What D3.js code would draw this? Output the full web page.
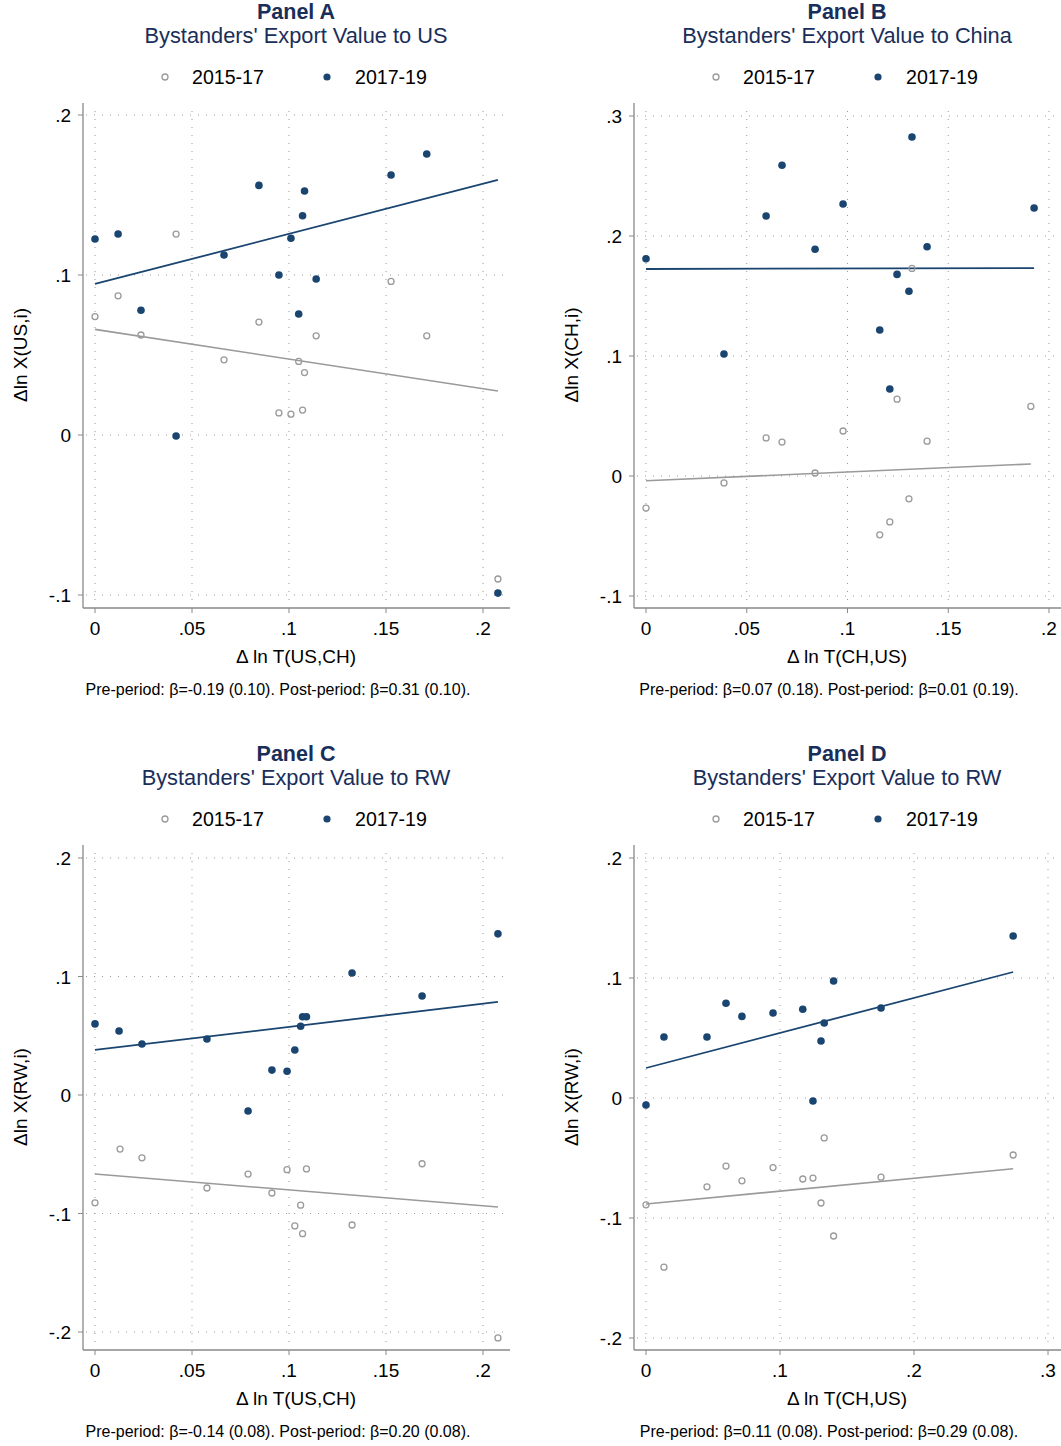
<!DOCTYPE html>
<html><head><meta charset="utf-8">
<script src="https://cdn.jsdelivr.net/npm/d3@7"></script>
<style>body{margin:0;background:#fff}text{font-family:"Liberation Sans",Arial,sans-serif}</style>
</head><body><svg id="c" width="1061" height="1446"></svg>
<script>
// panel A : US
const aPostX = [0,.0119,.0237,.0418,.0665,.0845,.0948,.101,.107,.108,.105,.114,.1526,.171,.2077];
const aPostY = [.1225,.1256,.078,-.0006,.1125,.156,.1,.123,.137,.1525,.0756,.0975,.1625,.1756,-.0988];
const aPreX  = [0,.0119,.0237,.0418,.0665,.0845,.0948,.101,.107,.105,.108,.114,.1526,.171,.2077];
const aPreY  = [.074,.087,.0625,.1256,.047,.0706,.0138,.013,.0156,.046,.039,.062,.096,.062,-.09];
// panel B : China
const bPostX = [0,.0387,.0596,.0675,.0839,.0978,.116,.121,.1246,.1305,.132,.1395,.1926];
const bPostY = [.181,.1017,.2167,.259,.189,.2267,.1217,.0725,.168,.154,.2825,.191,.2233];
const bPreX  = [0,.0387,.0596,.0675,.0839,.0978,.116,.121,.1246,.1305,.132,.1395,.191];
const bPreY  = [-.0267,-.0058,.0317,.0283,.0025,.0375,-.049,-.0383,.064,-.019,.173,.029,.058];
// panel C : RW vs T(US,CH)
const cPostX = [0,.0124,.0242,.0577,.0789,.0912,.099,.103,.106,.107,.109,.1325,.1686,.2077];
const cPostY = [.06,.054,.043,.0473,-.0135,.021,.02,.038,.058,.066,.066,.103,.0835,.136];
const cPreX  = [0,.0129,.0242,.0577,.0789,.0912,.099,.103,.106,.107,.109,.1325,.1686,.2077];
const cPreY  = [-.091,-.0456,-.053,-.0785,-.0667,-.0827,-.063,-.1105,-.093,-.117,-.0624,-.1097,-.058,-.205];
// panel D : RW vs T(CH,US)
const dPostX = [0,.0134,.0455,.0597,.0716,.0948,.117,.1246,.1306,.133,.140,.1754,.274];
const dPostY = [-.0058,.0508,.0508,.079,.068,.0708,.074,-.0025,.0475,.0625,.0975,.075,.135];
const dPreX  = [0,.0134,.0455,.0597,.0716,.0948,.117,.1246,.1306,.133,.140,.1754,.274];
const dPreY  = [-.089,-.141,-.074,-.0567,-.069,-.058,-.0675,-.0667,-.0875,-.0333,-.115,-.066,-.0475];
// fitted lines [y at start, y at end]
const aFit = {pre:[.066,.0275], post:[.0944,.1594]};
const bFit = {pre:[-.004,.01], post:[.1725,.1733]};
const cFit = {pre:[-.0667,-.0945], post:[.038,.0785]};
const dFit = {pre:[-.0883,-.059], post:[.025,.105]};

const navy = "#1a4570", grey = "#9a9a9a";
const svg = d3.select("#c");

function fmt(v){ if(v===0) return "0"; let s = String(+v.toFixed(2)); return s.replace("0.", "."); }

function panel(o){
  const g = svg.append("g").attr("transform", `translate(${o.dx},${o.dy})`);
  const x = d3.scaleLinear().domain(o.xd).range([95,o.xr]);
  const y = d3.scaleLinear().domain(o.yd).range(o.yr);
  const L=83, R=510, T=103, B=608;
  // titles
  g.append("text").attr("x",296).attr("y",19).attr("text-anchor","middle").attr("font-size",21.5).attr("font-weight","bold").attr("fill","#1a2e5a").text(o.title);
  g.append("text").attr("x",296).attr("y",43).attr("text-anchor","middle").attr("font-size",21.8).attr("fill","#1a2e5a").text(o.sub);
  // legend
  g.append("circle").attr("cx",165).attr("cy",77).attr("r",3).attr("fill","none").attr("stroke",grey).attr("stroke-width",1.3);
  g.append("text").attr("x",192).attr("y",84).attr("font-size",19.6).text("2015-17");
  g.append("circle").attr("cx",327).attr("cy",77).attr("r",3.6).attr("fill",navy);
  g.append("text").attr("x",355).attr("y",84).attr("font-size",19.6).text("2017-19");
  // grid
  g.selectAll(".gy").data(o.yt).join("line").attr("x1",L+3).attr("x2",R).attr("y1",d=>y(d)).attr("y2",d=>y(d))
    .attr("stroke","#999").attr("stroke-width",1).attr("stroke-dasharray","1,7");
  g.selectAll(".gx").data(o.xt).join("line").attr("y1",T+8).attr("y2",B-3).attr("x1",d=>x(d)).attr("x2",d=>x(d))
    .attr("stroke","#999").attr("stroke-width",1).attr("stroke-dasharray","1,7");
  // axes
  g.append("line").attr("x1",L).attr("x2",L).attr("y1",T).attr("y2",B).attr("stroke","#888").attr("stroke-width",1.3);
  g.append("line").attr("x1",L).attr("x2",R).attr("y1",B).attr("y2",B).attr("stroke","#888").attr("stroke-width",1.3);
  g.selectAll(".ty").data(o.yt).join("line").attr("x1",L-5).attr("x2",L).attr("y1",d=>y(d)).attr("y2",d=>y(d)).attr("stroke","#888");
  g.selectAll(".tx").data(o.xt).join("line").attr("y1",B).attr("y2",B+5).attr("x1",d=>x(d)).attr("x2",d=>x(d)).attr("stroke","#888");
  g.selectAll(".ly").data(o.yt).join("text").attr("x",L-12).attr("y",d=>y(d)+7).attr("text-anchor","end").attr("font-size",19).text(fmt);
  g.selectAll(".lx").data(o.xt).join("text").attr("x",d=>x(d)).attr("y",B+27).attr("text-anchor","middle").attr("font-size",19).text(fmt);
  g.append("text").attr("x",296).attr("y",663).attr("text-anchor","middle").attr("font-size",19).text(o.xl);
  g.append("text").attr("transform",`translate(27,355) rotate(-90)`).attr("text-anchor","middle").attr("font-size",19).text(o.yl);
  g.append("text").attr("x",278).attr("y",695).attr("text-anchor","middle").attr("font-size",16).text(o.note);
  // fits
  const x1 = o.preX[o.preX.length-1];
  g.append("line").attr("x1",x(0)).attr("x2",x(x1)).attr("y1",y(o.fit.pre[0])).attr("y2",y(o.fit.pre[1])).attr("stroke",grey).attr("stroke-width",1.6);
  g.append("line").attr("x1",x(0)).attr("x2",x(o.postX[o.postX.length-1])).attr("y1",y(o.fit.post[0])).attr("y2",y(o.fit.post[1])).attr("stroke",navy).attr("stroke-width",1.8);
  // points
  g.selectAll(".pre").data(o.preX).join("circle").attr("cx",d=>x(d)).attr("cy",(d,i)=>y(o.preY[i])).attr("r",3)
    .attr("fill","none").attr("stroke",grey).attr("stroke-width",1.3);
  g.selectAll(".post").data(o.postX).join("circle").attr("cx",d=>x(d)).attr("cy",(d,i)=>y(o.postY[i])).attr("r",3.8).attr("fill",navy);
}

panel({dx:0,dy:0,title:"Panel A",sub:"Bystanders' Export Value to US",xd:[0,.2],xr:483,yd:[.2,-.1],yr:[115,595],
  xt:[0,.05,.1,.15,.2],yt:[.2,.1,0,-.1],xl:"Δ ln T(US,CH)",yl:"Δln X(US,i)",
  note:"Pre-period: β=-0.19 (0.10). Post-period: β=0.31 (0.10).",preX:aPreX,preY:aPreY,postX:aPostX,postY:aPostY,fit:aFit});
panel({dx:551,dy:0,title:"Panel B",sub:"Bystanders' Export Value to China",xd:[0,.2],xr:498,yd:[.3,-.1],yr:[116,596],
  xt:[0,.05,.1,.15,.2],yt:[.3,.2,.1,0,-.1],xl:"Δ ln T(CH,US)",yl:"Δln X(CH,i)",
  note:"Pre-period: β=0.07 (0.18). Post-period: β=0.01 (0.19).",preX:bPreX,preY:bPreY,postX:bPostX,postY:bPostY,fit:bFit});
panel({dx:0,dy:742,title:"Panel C",sub:"Bystanders' Export Value to RW",xd:[0,.2],xr:483,yd:[.2,-.2],yr:[116,590],
  xt:[0,.05,.1,.15,.2],yt:[.2,.1,0,-.1,-.2],xl:"Δ ln T(US,CH)",yl:"Δln X(RW,i)",
  note:"Pre-period: β=-0.14 (0.08). Post-period: β=0.20 (0.08).",preX:cPreX,preY:cPreY,postX:cPostX,postY:cPostY,fit:cFit});
panel({dx:551,dy:742,title:"Panel D",sub:"Bystanders' Export Value to RW",xd:[0,.3],xr:497,yd:[.2,-.2],yr:[116,596],
  xt:[0,.1,.2,.3],yt:[.2,.1,0,-.1,-.2],xl:"Δ ln T(CH,US)",yl:"Δln X(RW,i)",
  note:"Pre-period: β=0.11 (0.08). Post-period: β=0.29 (0.08).",preX:dPreX,preY:dPreY,postX:dPostX,postY:dPostY,fit:dFit});
</script></body></html>
